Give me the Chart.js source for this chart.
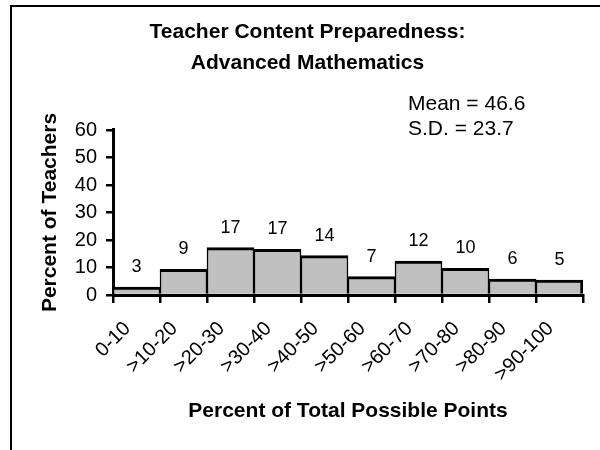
<!DOCTYPE html>
<html>
<head>
<meta charset="utf-8">
<script src="https://cdn.jsdelivr.net/npm/chart.js@4/dist/chart.umd.min.js"></script>
<style>
  html, body { margin: 0; padding: 0; background: #fff; overflow: hidden; width: 600px; height: 450px; }
  #frame { position: absolute; left: 10px; top: 5px; border: 2px solid #000; width: 592px; height: 460px; }
  #chart { display: block; }
</style>
</head>
<body>
<div id="frame"><canvas id="chart" width="592" height="443"></canvas></div>
<script>
// Data
const categories = ['0-10', '>10-20', '>20-30', '>30-40', '>40-50', '>50-60', '>60-70', '>70-80', '>80-90', '>90-100'];
const percentTeachers = [2.9, 9.3, 17.2, 16.6, 14.3, 6.7, 12.3, 9.7, 5.8, 5.4];
const barLabels = [3, 9, 17, 17, 14, 7, 12, 10, 6, 5];
const statsLines = ['Mean = 46.6', 'S.D. = 23.7'];
const yTicks = { min: 0, max: 60, step: 10 };

const FONT = '"Liberation Sans", Arial, sans-serif';
Chart.defaults.font.family = FONT;
Chart.defaults.color = '#000';

const last = categories.length - 1;

// number above each bar
const barValueLabels = {
  id: 'barValueLabels',
  afterDatasetsDraw(chart) {
    const ctx = chart.ctx;
    const meta = chart.getDatasetMeta(0);
    ctx.save();
    ctx.font = '18px ' + FONT;
    ctx.fillStyle = '#000';
    ctx.textAlign = 'center';
    ctx.textBaseline = 'alphabetic';
    meta.data.forEach((bar, i) => {
      ctx.fillText(String(barLabels[i]), bar.x, bar.y - 15);
    });
    ctx.restore();
  }
};

// mean / sd text box
const statsText = {
  id: 'statsText',
  afterDraw(chart) {
    const ctx = chart.ctx;
    ctx.save();
    ctx.font = '21px ' + FONT;
    ctx.fillStyle = '#000';
    ctx.textAlign = 'left';
    ctx.textBaseline = 'alphabetic';
    statsLines.forEach((t, i) => ctx.fillText(t, 396, 103 + i * 25));
    ctx.restore();
  }
};

new Chart(document.getElementById('chart'), {
  type: 'bar',
  data: {
    labels: categories,
    datasets: [{
      data: percentTeachers,
      backgroundColor: '#c0c0c0',
      borderColor: '#000',
      borderWidth: ctx => ({ top: 3, left: 1.5, right: ctx.dataIndex === last ? 3 : 1.5, bottom: 0 }),
      borderSkipped: false,
      barPercentage: 1,
      categoryPercentage: 1
    }]
  },
  options: {
    responsive: false,
    animation: false,
    layout: { padding: { left: 20, right: 21, top: 0, bottom: 0 } },
    plugins: {
      legend: { display: false },
      tooltip: { enabled: false },
      title: {
        display: true,
        text: ['Teacher Content Preparedness:', 'Advanced Mathematics'],
        font: { size: 21, weight: 'bold', lineHeight: 1.476 },
        color: '#000',
        padding: { top: 9.5, bottom: 51.5 }
      }
    },
    scales: {
      x: {
        grid: { display: true, drawOnChartArea: false, offset: true, color: '#000', lineWidth: 2.5, tickLength: 8 },
        border: { display: true, color: '#000', width: 3 },
        ticks: { font: { size: 20 }, color: '#000', maxRotation: 45, minRotation: 45, autoSkip: false, padding: 14, labelOffset: -9 },
        title: {
          display: true,
          text: 'Percent of Total Possible Points',
          font: { size: 21, weight: 'bold' },
          color: '#000',
          padding: { top: 0, bottom: 26.4 }
        },
        afterFit(scale) { scale.height = 155; }
      },
      y: {
        min: yTicks.min,
        max: yTicks.max,
        grid: { display: true, drawOnChartArea: false, color: '#000', lineWidth: 2.5, tickLength: 7 },
        border: { display: true, color: '#000', width: 3 },
        ticks: { stepSize: yTicks.step, font: { size: 20 }, color: '#000', padding: 9 },
        title: {
          display: true,
          text: 'Percent of Teachers',
          font: { size: 21, weight: 'bold' },
          color: '#000',
          padding: { top: 5.4, bottom: 0 }
        },
        afterFit(scale) { scale.width = 81; }
      }
    }
  },
  plugins: [barValueLabels, statsText]
});
</script>
</body>
</html>
